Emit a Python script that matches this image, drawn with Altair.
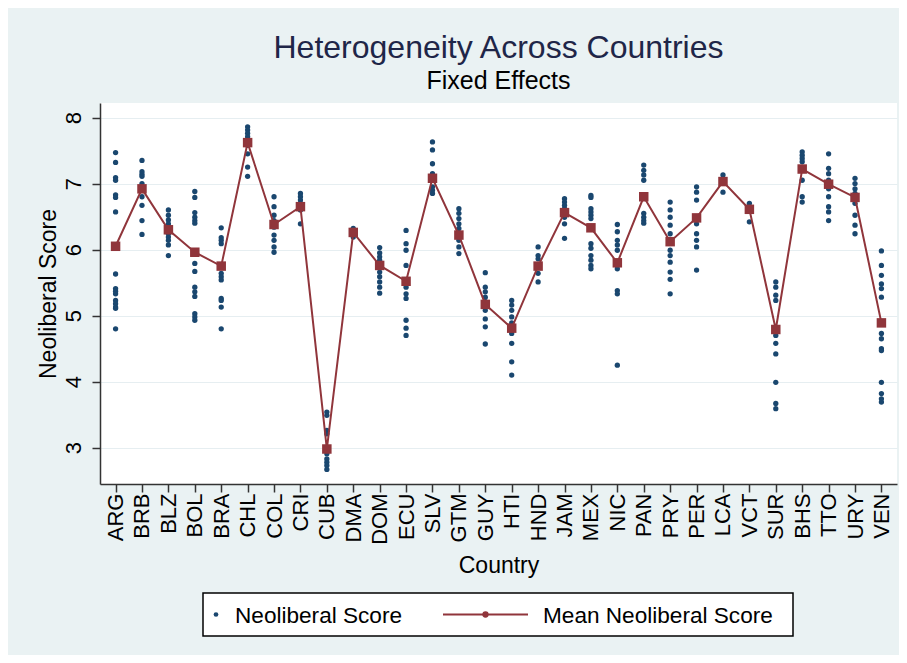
import altair as alt
import pandas as pd

FONT = "Liberation Sans"

countries = ["ARG", "BRB", "BLZ", "BOL", "BRA", "CHL", "COL", "CRI", "CUB", "DMA",
             "DOM", "ECU", "SLV", "GTM", "GUY", "HTI", "HND", "JAM", "MEX", "NIC",
             "PAN", "PRY", "PER", "LCA", "VCT", "SUR", "BHS", "TTO", "URY", "VEN"]

means = [6.05, 6.92, 6.30, 5.96, 5.75, 7.62, 6.38, 6.65, 2.98, 6.26,
         5.76, 5.52, 7.08, 6.22, 5.17, 4.81, 5.75, 6.56, 6.33, 5.80,
         6.80, 6.12, 6.48, 7.03, 6.61, 4.79, 7.22, 6.99, 6.79, 4.89]

scores = [
    [7.47, 7.32, 7.09, 7.05, 6.83, 6.79, 6.57, 5.63, 5.41, 5.37, 5.33, 5.23, 5.18, 5.13, 5.11, 4.80],  # ARG
    [7.35, 7.18, 7.14, 7.11, 7.00, 6.90, 6.80, 6.67, 6.44, 6.23],  # BRB
    [6.60, 6.52, 6.45, 6.39, 6.34, 6.24, 6.19, 6.14, 6.07, 5.91],  # BLZ
    [6.88, 6.79, 6.56, 6.49, 6.44, 6.40, 5.93, 5.79, 5.67, 5.43, 5.36, 5.29, 5.03, 4.98, 4.93],  # BOL
    [6.33, 6.18, 6.14, 6.09, 5.64, 5.59, 5.54, 5.26, 5.23, 5.13, 4.80],  # BRA
    [7.86, 7.81, 7.76, 7.71, 7.66, 7.58, 7.45, 7.25, 7.11],  # CHL
    [6.80, 6.65, 6.52, 6.44, 6.34, 6.22, 6.14, 6.04, 5.96],  # COL
    [6.85, 6.80, 6.75, 6.70, 6.60, 6.39],  # CRI
    [3.54, 3.49, 3.26, 3.21, 2.91, 2.83, 2.78, 2.73, 2.67],  # CUB
    [6.32, 6.19],  # DMA
    [6.03, 5.95, 5.89, 5.84, 5.74, 5.66, 5.59, 5.51, 5.43, 5.34],  # DOM
    [6.29, 6.09, 5.99, 5.76, 5.43, 5.33, 5.26, 4.93, 4.81, 4.70],  # ECU
    [7.63, 7.51, 7.30, 7.15, 6.95, 6.90, 6.85],  # SLV
    [6.62, 6.55, 6.47, 6.39, 6.32, 6.14, 6.04, 5.94],  # GTM
    [5.65, 5.43, 5.36, 5.28, 5.21, 5.08, 4.95, 4.83, 4.57],  # GUY
    [5.23, 5.16, 5.08, 4.98, 4.89, 4.73, 4.58, 4.30, 4.10],  # HTI
    [6.04, 5.91, 5.86, 5.74, 5.64, 5.51],  # HND
    [6.77, 6.72, 6.67, 6.62, 6.49, 6.39, 6.17],  # JAM
    [6.82, 6.79, 6.62, 6.57, 6.52, 6.47, 6.09, 6.02, 5.91, 5.84, 5.76, 5.71],  # MEX
    [6.38, 6.27, 6.14, 6.07, 5.99, 5.71, 5.38, 5.33, 4.25],  # NIC
    [7.28, 7.20, 7.13, 7.05, 6.55, 6.49, 6.44, 6.40],  # PAN
    [6.72, 6.60, 6.49, 6.37, 6.24, 5.99, 5.91, 5.81, 5.66, 5.55, 5.33],  # PRY
    [6.95, 6.87, 6.75, 6.39, 6.24, 6.14, 6.04, 5.69],  # PER
    [7.13, 6.87],  # LCA
    [6.70, 6.42],  # VCT
    [5.51, 5.43, 5.31, 5.23, 4.70, 4.58, 4.42, 3.99, 3.67, 3.59],  # SUR
    [7.48, 7.43, 7.38, 7.33, 7.05, 6.80, 6.72],  # BHS
    [7.45, 7.23, 7.15, 7.05, 6.92, 6.80, 6.65, 6.57, 6.44],  # TTO
    [7.08, 7.00, 6.92, 6.85, 6.70, 6.52, 6.37, 6.24],  # URY
    [5.98, 5.76, 5.61, 5.48, 5.41, 5.28, 4.73, 4.65, 4.50, 4.47, 3.99, 3.82, 3.74, 3.69],  # VEN
]

series_domain = ["Neoliberal Score", "Mean Neoliberal Score"]
series_colors = ["#1A476F", "#90353B"]
y_ticks = [3, 4, 5, 6, 7, 8]

rows = []
for c, vals in zip(countries, scores):
    for v in vals:
        rows.append({"country": c, "score": v, "series": series_domain[0]})
points_df = pd.DataFrame(rows)
mean_df = pd.DataFrame({"country": countries, "score": means,
                        "series": [series_domain[1]] * len(countries)})

x_enc = alt.X("country:N", sort=countries,
              scale=alt.Scale(type="point", padding=0.59),
              axis=alt.Axis(title="Country", labelAngle=270, labelPadding=1,
                            titlePadding=10, grid=False, titleFontSize=23,
                            labelFontSize=22))
y_enc = alt.Y("score:Q", scale=alt.Scale(domain=[2.45, 8.22], nice=False, zero=False),
              axis=alt.Axis(title="Neoliberal Score", values=y_ticks, labelAngle=270,
                            labelAlign="center", labelBaseline="alphabetic",
                            labelPadding=12, grid=True,
                            titleFontSize=23, titleAngle=270, titleX=-45, titleY=190.5,
                            titleAlign="center", titleBaseline="alphabetic",
                            labelFontSize=22))
color_enc = alt.Color("series:N", scale=alt.Scale(domain=series_domain, range=series_colors),
                      legend=None)

pts = alt.Chart(points_df).mark_circle(size=28, opacity=1).encode(
    x=x_enc, y=y_enc, color=color_enc)
line = alt.Chart(mean_df).mark_line(strokeWidth=2).encode(
    x=x_enc, y=y_enc, color=color_enc)
sq = alt.Chart(mean_df).mark_square(size=90, opacity=1).encode(
    x=x_enc, y=y_enc, color=color_enc)

# ---- legend (drawn as a boxed key below the x-axis title) ----
LEG_Y = 511.5
key1 = pd.DataFrame({"label": [series_domain[0]]})
key2 = pd.DataFrame({"label": [series_domain[1]]})

leg_box = alt.Chart(key1).mark_rect(fill="white", stroke="black", strokeWidth=1.5).encode(
    x=alt.value(103), x2=alt.value(693), y=alt.value(490), y2=alt.value(533))
leg_dot1 = alt.Chart(key1).mark_circle(size=22, opacity=1, color=series_colors[0]).encode(
    x=alt.value(116), y=alt.value(LEG_Y))
leg_txt1 = alt.Chart(key1).mark_text(align="left", baseline="middle", font=FONT,
                                     fontSize=22.6, color="black").encode(
    x=alt.value(135), y=alt.value(LEG_Y + 1), text="label:N")
leg_line = alt.Chart(key2).mark_rule(color=series_colors[1], strokeWidth=1.8).encode(
    x=alt.value(343), x2=alt.value(428), y=alt.value(LEG_Y))
leg_dot2 = alt.Chart(key2).mark_circle(size=40, opacity=1, color=series_colors[1]).encode(
    x=alt.value(385.5), y=alt.value(LEG_Y))
leg_txt2 = alt.Chart(key2).mark_text(align="left", baseline="middle", font=FONT,
                                     fontSize=22.6, color="black").encode(
    x=alt.value(443), y=alt.value(LEG_Y + 1), text="label:N")

chart = alt.layer(pts, line, sq, leg_box, leg_dot1, leg_txt1, leg_line, leg_dot2,
                  leg_txt2).properties(
    width=797, height=381,
    autosize=alt.AutoSizeParams(type="none"),
    padding={"left": 92, "top": 95, "right": 2, "bottom": 171},
    background="#EAF2F3",
    title=alt.TitleParams("Heterogeneity Across Countries", subtitle="Fixed Effects",
                          font=FONT, fontSize=32, fontWeight="normal", color="#1F2648",
                          subtitleFont=FONT, subtitleFontSize=25, subtitleColor="black",
                          anchor="middle", frame="group", offset=8, subtitlePadding=4),
).configure_view(
    fill="white", strokeWidth=0
).configure_axis(
    domainColor="#333333", domainWidth=1.5, tickColor="#333333", tickWidth=1.5,
    tickSize=8, labelFont=FONT, labelColor="black", titleFont=FONT,
    titleFontWeight="normal", titleColor="black", gridColor="#E6EEF1", gridWidth=1,
)

chart.save("out.html", embed_options={"renderer": "svg", "actions": False})
